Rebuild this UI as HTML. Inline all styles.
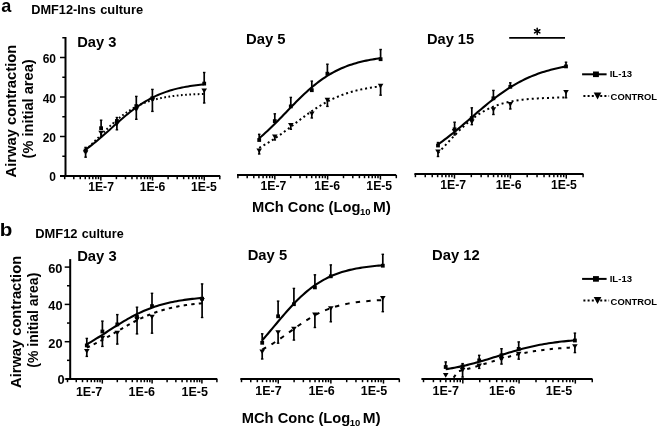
<!DOCTYPE html>
<html><head><meta charset="utf-8"><style>
html,body{margin:0;padding:0;background:#fff;}
svg{display:block;filter:blur(0.3px);}
text{font-family:"Liberation Sans", sans-serif;font-weight:bold;fill:#000;}
</style></head><body>
<svg width="660" height="427" viewBox="0 0 660 427">
<rect width="660" height="427" fill="#fff"/>
<text x="1.26" y="11.50" font-size="18.50" textLength="10.07" lengthAdjust="spacingAndGlyphs">a</text>
<text x="31.21" y="13.80" font-size="12.50" textLength="64.55" lengthAdjust="spacingAndGlyphs">DMF12-Ins</text>
<text x="100.18" y="13.80" font-size="12.50" textLength="42.95" lengthAdjust="spacingAndGlyphs">culture</text>
<text x="-0.34" y="235.60" font-size="18.60" textLength="12.58" lengthAdjust="spacingAndGlyphs">b</text>
<text x="35.20" y="237.70" font-size="12.50" textLength="42.30" lengthAdjust="spacingAndGlyphs">DMF12</text>
<text x="81.80" y="237.70" font-size="12.50" textLength="41.83" lengthAdjust="spacingAndGlyphs">culture</text>
<text x="77.17" y="47.20" font-size="14.50" textLength="39.19" lengthAdjust="spacingAndGlyphs">Day 3</text>
<text x="245.96" y="44.40" font-size="14.50" textLength="39.56" lengthAdjust="spacingAndGlyphs">Day 5</text>
<text x="426.98" y="44.20" font-size="14.50" textLength="47.18" lengthAdjust="spacingAndGlyphs">Day 15</text>
<text x="77.16" y="260.60" font-size="14.50" textLength="39.50" lengthAdjust="spacingAndGlyphs">Day 3</text>
<text x="247.66" y="260.40" font-size="14.50" textLength="39.45" lengthAdjust="spacingAndGlyphs">Day 5</text>
<text x="432.07" y="260.40" font-size="14.50" textLength="47.64" lengthAdjust="spacingAndGlyphs">Day 12</text>
<text x="251.97" y="212.30" font-size="14.00" textLength="108.41" lengthAdjust="spacingAndGlyphs">MCh Conc (Log</text>
<text x="360.03" y="215.30" font-size="9.00" textLength="10.58" lengthAdjust="spacingAndGlyphs">10</text>
<text x="372.92" y="212.30" font-size="14.00" textLength="17.94" lengthAdjust="spacingAndGlyphs">M)</text>
<text x="241.77" y="423.00" font-size="14.00" textLength="108.41" lengthAdjust="spacingAndGlyphs">MCh Conc (Log</text>
<text x="349.83" y="426.00" font-size="9.00" textLength="10.58" lengthAdjust="spacingAndGlyphs">10</text>
<text x="362.72" y="423.00" font-size="14.00" textLength="17.94" lengthAdjust="spacingAndGlyphs">M)</text>
<text transform="rotate(-90)" x="-177.54" y="15.80" font-size="14.40" textLength="132.85" lengthAdjust="spacingAndGlyphs">Airway contraction</text>
<text transform="rotate(-90)" x="-158.43" y="33.40" font-size="14.40" textLength="99.05" lengthAdjust="spacingAndGlyphs">(% initial area)</text>
<text transform="rotate(-90)" x="-387.94" y="20.60" font-size="14.40" textLength="132.04" lengthAdjust="spacingAndGlyphs">Airway contraction</text>
<text transform="rotate(-90)" x="-367.70" y="38.20" font-size="14.00" textLength="94.99" lengthAdjust="spacingAndGlyphs">(% initial area)</text>
<line x1="65.5" y1="37.0" x2="65.5" y2="177.0" stroke="#000" stroke-width="2"/>
<line x1="60.0" y1="176.00" x2="65.5" y2="176.00" stroke="#000" stroke-width="1.5"/>
<line x1="60.0" y1="136.50" x2="65.5" y2="136.50" stroke="#000" stroke-width="1.5"/>
<line x1="60.0" y1="97.00" x2="65.5" y2="97.00" stroke="#000" stroke-width="1.5"/>
<line x1="60.0" y1="57.50" x2="65.5" y2="57.50" stroke="#000" stroke-width="1.5"/>
<line x1="62.3" y1="156.25" x2="65.5" y2="156.25" stroke="#000" stroke-width="1.5"/>
<line x1="62.3" y1="116.75" x2="65.5" y2="116.75" stroke="#000" stroke-width="1.5"/>
<line x1="62.3" y1="77.25" x2="65.5" y2="77.25" stroke="#000" stroke-width="1.5"/>
<line x1="62.3" y1="37.75" x2="65.5" y2="37.75" stroke="#000" stroke-width="1.5"/>
<line x1="60.0" y1="176.0" x2="220.2" y2="176.0" stroke="#000" stroke-width="2"/>
<line x1="64.70" y1="176.0" x2="64.70" y2="179.20" stroke="#000" stroke-width="1.5"/>
<line x1="73.80" y1="176.0" x2="73.80" y2="179.20" stroke="#000" stroke-width="1.5"/>
<line x1="80.26" y1="176.0" x2="80.26" y2="179.20" stroke="#000" stroke-width="1.5"/>
<line x1="85.27" y1="176.0" x2="85.27" y2="179.20" stroke="#000" stroke-width="1.5"/>
<line x1="89.37" y1="176.0" x2="89.37" y2="179.20" stroke="#000" stroke-width="1.5"/>
<line x1="92.83" y1="176.0" x2="92.83" y2="179.20" stroke="#000" stroke-width="1.5"/>
<line x1="95.83" y1="176.0" x2="95.83" y2="179.20" stroke="#000" stroke-width="1.5"/>
<line x1="98.47" y1="176.0" x2="98.47" y2="179.20" stroke="#000" stroke-width="1.5"/>
<line x1="100.84" y1="176.0" x2="100.84" y2="180.60" stroke="#000" stroke-width="1.5"/>
<line x1="116.40" y1="176.0" x2="116.40" y2="179.20" stroke="#000" stroke-width="1.5"/>
<line x1="125.50" y1="176.0" x2="125.50" y2="179.20" stroke="#000" stroke-width="1.5"/>
<line x1="131.96" y1="176.0" x2="131.96" y2="179.20" stroke="#000" stroke-width="1.5"/>
<line x1="136.97" y1="176.0" x2="136.97" y2="179.20" stroke="#000" stroke-width="1.5"/>
<line x1="141.07" y1="176.0" x2="141.07" y2="179.20" stroke="#000" stroke-width="1.5"/>
<line x1="144.53" y1="176.0" x2="144.53" y2="179.20" stroke="#000" stroke-width="1.5"/>
<line x1="147.53" y1="176.0" x2="147.53" y2="179.20" stroke="#000" stroke-width="1.5"/>
<line x1="150.17" y1="176.0" x2="150.17" y2="179.20" stroke="#000" stroke-width="1.5"/>
<line x1="152.54" y1="176.0" x2="152.54" y2="180.60" stroke="#000" stroke-width="1.5"/>
<line x1="168.10" y1="176.0" x2="168.10" y2="179.20" stroke="#000" stroke-width="1.5"/>
<line x1="177.20" y1="176.0" x2="177.20" y2="179.20" stroke="#000" stroke-width="1.5"/>
<line x1="183.66" y1="176.0" x2="183.66" y2="179.20" stroke="#000" stroke-width="1.5"/>
<line x1="188.67" y1="176.0" x2="188.67" y2="179.20" stroke="#000" stroke-width="1.5"/>
<line x1="192.77" y1="176.0" x2="192.77" y2="179.20" stroke="#000" stroke-width="1.5"/>
<line x1="196.23" y1="176.0" x2="196.23" y2="179.20" stroke="#000" stroke-width="1.5"/>
<line x1="199.23" y1="176.0" x2="199.23" y2="179.20" stroke="#000" stroke-width="1.5"/>
<line x1="201.87" y1="176.0" x2="201.87" y2="179.20" stroke="#000" stroke-width="1.5"/>
<line x1="204.24" y1="176.0" x2="204.24" y2="180.60" stroke="#000" stroke-width="1.5"/>
<line x1="219.80" y1="176.0" x2="219.80" y2="179.20" stroke="#000" stroke-width="1.5"/>
<text x="49.36" y="180.64" font-size="12.00" textLength="6.67" lengthAdjust="spacingAndGlyphs">0</text>
<text x="42.64" y="141.84" font-size="12.00" textLength="13.35" lengthAdjust="spacingAndGlyphs">20</text>
<text x="42.64" y="102.94" font-size="12.00" textLength="13.35" lengthAdjust="spacingAndGlyphs">40</text>
<text x="42.64" y="63.04" font-size="12.00" textLength="13.35" lengthAdjust="spacingAndGlyphs">60</text>
<text x="88.21" y="190.70" font-size="12.20" textLength="25.77" lengthAdjust="spacingAndGlyphs">1E-7</text>
<text x="139.65" y="190.70" font-size="12.20" textLength="25.77" lengthAdjust="spacingAndGlyphs">1E-6</text>
<text x="191.08" y="190.70" font-size="12.20" textLength="25.77" lengthAdjust="spacingAndGlyphs">1E-5</text>
<line x1="237.0" y1="175.0" x2="396.2" y2="175.0" stroke="#000" stroke-width="2"/>
<line x1="237.90" y1="175.0" x2="237.90" y2="178.20" stroke="#000" stroke-width="1.5"/>
<line x1="247.20" y1="175.0" x2="247.20" y2="178.20" stroke="#000" stroke-width="1.5"/>
<line x1="253.79" y1="175.0" x2="253.79" y2="178.20" stroke="#000" stroke-width="1.5"/>
<line x1="258.91" y1="175.0" x2="258.91" y2="178.20" stroke="#000" stroke-width="1.5"/>
<line x1="263.09" y1="175.0" x2="263.09" y2="178.20" stroke="#000" stroke-width="1.5"/>
<line x1="266.63" y1="175.0" x2="266.63" y2="178.20" stroke="#000" stroke-width="1.5"/>
<line x1="269.69" y1="175.0" x2="269.69" y2="178.20" stroke="#000" stroke-width="1.5"/>
<line x1="272.39" y1="175.0" x2="272.39" y2="178.20" stroke="#000" stroke-width="1.5"/>
<line x1="274.81" y1="175.0" x2="274.81" y2="179.60" stroke="#000" stroke-width="1.5"/>
<line x1="290.70" y1="175.0" x2="290.70" y2="178.20" stroke="#000" stroke-width="1.5"/>
<line x1="300.00" y1="175.0" x2="300.00" y2="178.20" stroke="#000" stroke-width="1.5"/>
<line x1="306.59" y1="175.0" x2="306.59" y2="178.20" stroke="#000" stroke-width="1.5"/>
<line x1="311.71" y1="175.0" x2="311.71" y2="178.20" stroke="#000" stroke-width="1.5"/>
<line x1="315.89" y1="175.0" x2="315.89" y2="178.20" stroke="#000" stroke-width="1.5"/>
<line x1="319.43" y1="175.0" x2="319.43" y2="178.20" stroke="#000" stroke-width="1.5"/>
<line x1="322.49" y1="175.0" x2="322.49" y2="178.20" stroke="#000" stroke-width="1.5"/>
<line x1="325.19" y1="175.0" x2="325.19" y2="178.20" stroke="#000" stroke-width="1.5"/>
<line x1="327.61" y1="175.0" x2="327.61" y2="179.60" stroke="#000" stroke-width="1.5"/>
<line x1="343.50" y1="175.0" x2="343.50" y2="178.20" stroke="#000" stroke-width="1.5"/>
<line x1="352.80" y1="175.0" x2="352.80" y2="178.20" stroke="#000" stroke-width="1.5"/>
<line x1="359.39" y1="175.0" x2="359.39" y2="178.20" stroke="#000" stroke-width="1.5"/>
<line x1="364.51" y1="175.0" x2="364.51" y2="178.20" stroke="#000" stroke-width="1.5"/>
<line x1="368.69" y1="175.0" x2="368.69" y2="178.20" stroke="#000" stroke-width="1.5"/>
<line x1="372.23" y1="175.0" x2="372.23" y2="178.20" stroke="#000" stroke-width="1.5"/>
<line x1="375.29" y1="175.0" x2="375.29" y2="178.20" stroke="#000" stroke-width="1.5"/>
<line x1="377.99" y1="175.0" x2="377.99" y2="178.20" stroke="#000" stroke-width="1.5"/>
<line x1="380.41" y1="175.0" x2="380.41" y2="179.60" stroke="#000" stroke-width="1.5"/>
<line x1="396.30" y1="175.0" x2="396.30" y2="178.20" stroke="#000" stroke-width="1.5"/>
<text x="260.51" y="189.90" font-size="12.20" textLength="25.77" lengthAdjust="spacingAndGlyphs">1E-7</text>
<text x="314.25" y="189.90" font-size="12.20" textLength="25.77" lengthAdjust="spacingAndGlyphs">1E-6</text>
<text x="366.39" y="189.90" font-size="12.20" textLength="25.77" lengthAdjust="spacingAndGlyphs">1E-5</text>
<line x1="414.4" y1="174.0" x2="583.4" y2="174.0" stroke="#000" stroke-width="2"/>
<line x1="415.40" y1="174.0" x2="415.40" y2="177.20" stroke="#000" stroke-width="1.5"/>
<line x1="425.24" y1="174.0" x2="425.24" y2="177.20" stroke="#000" stroke-width="1.5"/>
<line x1="432.23" y1="174.0" x2="432.23" y2="177.20" stroke="#000" stroke-width="1.5"/>
<line x1="437.64" y1="174.0" x2="437.64" y2="177.20" stroke="#000" stroke-width="1.5"/>
<line x1="442.07" y1="174.0" x2="442.07" y2="177.20" stroke="#000" stroke-width="1.5"/>
<line x1="445.81" y1="174.0" x2="445.81" y2="177.20" stroke="#000" stroke-width="1.5"/>
<line x1="449.06" y1="174.0" x2="449.06" y2="177.20" stroke="#000" stroke-width="1.5"/>
<line x1="451.91" y1="174.0" x2="451.91" y2="177.20" stroke="#000" stroke-width="1.5"/>
<line x1="454.47" y1="174.0" x2="454.47" y2="178.60" stroke="#000" stroke-width="1.5"/>
<line x1="471.30" y1="174.0" x2="471.30" y2="177.20" stroke="#000" stroke-width="1.5"/>
<line x1="481.14" y1="174.0" x2="481.14" y2="177.20" stroke="#000" stroke-width="1.5"/>
<line x1="488.13" y1="174.0" x2="488.13" y2="177.20" stroke="#000" stroke-width="1.5"/>
<line x1="493.54" y1="174.0" x2="493.54" y2="177.20" stroke="#000" stroke-width="1.5"/>
<line x1="497.97" y1="174.0" x2="497.97" y2="177.20" stroke="#000" stroke-width="1.5"/>
<line x1="501.71" y1="174.0" x2="501.71" y2="177.20" stroke="#000" stroke-width="1.5"/>
<line x1="504.96" y1="174.0" x2="504.96" y2="177.20" stroke="#000" stroke-width="1.5"/>
<line x1="507.81" y1="174.0" x2="507.81" y2="177.20" stroke="#000" stroke-width="1.5"/>
<line x1="510.37" y1="174.0" x2="510.37" y2="178.60" stroke="#000" stroke-width="1.5"/>
<line x1="527.20" y1="174.0" x2="527.20" y2="177.20" stroke="#000" stroke-width="1.5"/>
<line x1="537.04" y1="174.0" x2="537.04" y2="177.20" stroke="#000" stroke-width="1.5"/>
<line x1="544.03" y1="174.0" x2="544.03" y2="177.20" stroke="#000" stroke-width="1.5"/>
<line x1="549.44" y1="174.0" x2="549.44" y2="177.20" stroke="#000" stroke-width="1.5"/>
<line x1="553.87" y1="174.0" x2="553.87" y2="177.20" stroke="#000" stroke-width="1.5"/>
<line x1="557.61" y1="174.0" x2="557.61" y2="177.20" stroke="#000" stroke-width="1.5"/>
<line x1="560.86" y1="174.0" x2="560.86" y2="177.20" stroke="#000" stroke-width="1.5"/>
<line x1="563.71" y1="174.0" x2="563.71" y2="177.20" stroke="#000" stroke-width="1.5"/>
<line x1="566.27" y1="174.0" x2="566.27" y2="178.60" stroke="#000" stroke-width="1.5"/>
<line x1="583.10" y1="174.0" x2="583.10" y2="177.20" stroke="#000" stroke-width="1.5"/>
<text x="440.31" y="189.30" font-size="12.20" textLength="25.77" lengthAdjust="spacingAndGlyphs">1E-7</text>
<text x="495.75" y="189.30" font-size="12.20" textLength="25.77" lengthAdjust="spacingAndGlyphs">1E-6</text>
<text x="550.99" y="189.30" font-size="12.20" textLength="25.77" lengthAdjust="spacingAndGlyphs">1E-5</text>
<line x1="70.2" y1="259.1" x2="70.2" y2="380.0" stroke="#000" stroke-width="2"/>
<line x1="64.7" y1="379.00" x2="70.2" y2="379.00" stroke="#000" stroke-width="1.5"/>
<line x1="64.7" y1="341.70" x2="70.2" y2="341.70" stroke="#000" stroke-width="1.5"/>
<line x1="64.7" y1="304.40" x2="70.2" y2="304.40" stroke="#000" stroke-width="1.5"/>
<line x1="64.7" y1="267.10" x2="70.2" y2="267.10" stroke="#000" stroke-width="1.5"/>
<line x1="67.0" y1="360.35" x2="70.2" y2="360.35" stroke="#000" stroke-width="1.5"/>
<line x1="67.0" y1="323.05" x2="70.2" y2="323.05" stroke="#000" stroke-width="1.5"/>
<line x1="67.0" y1="285.75" x2="70.2" y2="285.75" stroke="#000" stroke-width="1.5"/>
<line x1="66.0" y1="379.0" x2="217.3" y2="379.0" stroke="#000" stroke-width="2"/>
<line x1="67.50" y1="379.0" x2="67.50" y2="382.20" stroke="#000" stroke-width="1.5"/>
<line x1="76.27" y1="379.0" x2="76.27" y2="382.20" stroke="#000" stroke-width="1.5"/>
<line x1="82.49" y1="379.0" x2="82.49" y2="382.20" stroke="#000" stroke-width="1.5"/>
<line x1="87.32" y1="379.0" x2="87.32" y2="382.20" stroke="#000" stroke-width="1.5"/>
<line x1="91.26" y1="379.0" x2="91.26" y2="382.20" stroke="#000" stroke-width="1.5"/>
<line x1="94.59" y1="379.0" x2="94.59" y2="382.20" stroke="#000" stroke-width="1.5"/>
<line x1="97.48" y1="379.0" x2="97.48" y2="382.20" stroke="#000" stroke-width="1.5"/>
<line x1="100.03" y1="379.0" x2="100.03" y2="382.20" stroke="#000" stroke-width="1.5"/>
<line x1="102.31" y1="379.0" x2="102.31" y2="383.60" stroke="#000" stroke-width="1.5"/>
<line x1="117.30" y1="379.0" x2="117.30" y2="382.20" stroke="#000" stroke-width="1.5"/>
<line x1="126.07" y1="379.0" x2="126.07" y2="382.20" stroke="#000" stroke-width="1.5"/>
<line x1="132.29" y1="379.0" x2="132.29" y2="382.20" stroke="#000" stroke-width="1.5"/>
<line x1="137.12" y1="379.0" x2="137.12" y2="382.20" stroke="#000" stroke-width="1.5"/>
<line x1="141.06" y1="379.0" x2="141.06" y2="382.20" stroke="#000" stroke-width="1.5"/>
<line x1="144.39" y1="379.0" x2="144.39" y2="382.20" stroke="#000" stroke-width="1.5"/>
<line x1="147.28" y1="379.0" x2="147.28" y2="382.20" stroke="#000" stroke-width="1.5"/>
<line x1="149.83" y1="379.0" x2="149.83" y2="382.20" stroke="#000" stroke-width="1.5"/>
<line x1="152.11" y1="379.0" x2="152.11" y2="383.60" stroke="#000" stroke-width="1.5"/>
<line x1="167.10" y1="379.0" x2="167.10" y2="382.20" stroke="#000" stroke-width="1.5"/>
<line x1="175.87" y1="379.0" x2="175.87" y2="382.20" stroke="#000" stroke-width="1.5"/>
<line x1="182.09" y1="379.0" x2="182.09" y2="382.20" stroke="#000" stroke-width="1.5"/>
<line x1="186.92" y1="379.0" x2="186.92" y2="382.20" stroke="#000" stroke-width="1.5"/>
<line x1="190.86" y1="379.0" x2="190.86" y2="382.20" stroke="#000" stroke-width="1.5"/>
<line x1="194.19" y1="379.0" x2="194.19" y2="382.20" stroke="#000" stroke-width="1.5"/>
<line x1="197.08" y1="379.0" x2="197.08" y2="382.20" stroke="#000" stroke-width="1.5"/>
<line x1="199.63" y1="379.0" x2="199.63" y2="382.20" stroke="#000" stroke-width="1.5"/>
<line x1="201.91" y1="379.0" x2="201.91" y2="383.60" stroke="#000" stroke-width="1.5"/>
<line x1="216.90" y1="379.0" x2="216.90" y2="382.20" stroke="#000" stroke-width="1.5"/>
<text x="57.44" y="384.42" font-size="12.80" textLength="7.12" lengthAdjust="spacingAndGlyphs">0</text>
<text x="48.28" y="348.42" font-size="12.80" textLength="14.24" lengthAdjust="spacingAndGlyphs">20</text>
<text x="48.28" y="309.82" font-size="12.80" textLength="14.24" lengthAdjust="spacingAndGlyphs">40</text>
<text x="48.18" y="273.32" font-size="12.80" textLength="14.24" lengthAdjust="spacingAndGlyphs">60</text>
<text x="75.89" y="395.60" font-size="12.50" textLength="26.40" lengthAdjust="spacingAndGlyphs">1E-7</text>
<text x="128.62" y="395.60" font-size="12.50" textLength="26.40" lengthAdjust="spacingAndGlyphs">1E-6</text>
<text x="181.46" y="395.60" font-size="12.50" textLength="26.40" lengthAdjust="spacingAndGlyphs">1E-5</text>
<line x1="240.3" y1="379.0" x2="399.6" y2="379.0" stroke="#000" stroke-width="2"/>
<line x1="241.50" y1="379.0" x2="241.50" y2="382.20" stroke="#000" stroke-width="1.5"/>
<line x1="250.76" y1="379.0" x2="250.76" y2="382.20" stroke="#000" stroke-width="1.5"/>
<line x1="257.33" y1="379.0" x2="257.33" y2="382.20" stroke="#000" stroke-width="1.5"/>
<line x1="262.43" y1="379.0" x2="262.43" y2="382.20" stroke="#000" stroke-width="1.5"/>
<line x1="266.60" y1="379.0" x2="266.60" y2="382.20" stroke="#000" stroke-width="1.5"/>
<line x1="270.12" y1="379.0" x2="270.12" y2="382.20" stroke="#000" stroke-width="1.5"/>
<line x1="273.17" y1="379.0" x2="273.17" y2="382.20" stroke="#000" stroke-width="1.5"/>
<line x1="275.86" y1="379.0" x2="275.86" y2="382.20" stroke="#000" stroke-width="1.5"/>
<line x1="278.27" y1="379.0" x2="278.27" y2="383.60" stroke="#000" stroke-width="1.5"/>
<line x1="294.10" y1="379.0" x2="294.10" y2="382.20" stroke="#000" stroke-width="1.5"/>
<line x1="303.36" y1="379.0" x2="303.36" y2="382.20" stroke="#000" stroke-width="1.5"/>
<line x1="309.93" y1="379.0" x2="309.93" y2="382.20" stroke="#000" stroke-width="1.5"/>
<line x1="315.03" y1="379.0" x2="315.03" y2="382.20" stroke="#000" stroke-width="1.5"/>
<line x1="319.20" y1="379.0" x2="319.20" y2="382.20" stroke="#000" stroke-width="1.5"/>
<line x1="322.72" y1="379.0" x2="322.72" y2="382.20" stroke="#000" stroke-width="1.5"/>
<line x1="325.77" y1="379.0" x2="325.77" y2="382.20" stroke="#000" stroke-width="1.5"/>
<line x1="328.46" y1="379.0" x2="328.46" y2="382.20" stroke="#000" stroke-width="1.5"/>
<line x1="330.87" y1="379.0" x2="330.87" y2="383.60" stroke="#000" stroke-width="1.5"/>
<line x1="346.70" y1="379.0" x2="346.70" y2="382.20" stroke="#000" stroke-width="1.5"/>
<line x1="355.96" y1="379.0" x2="355.96" y2="382.20" stroke="#000" stroke-width="1.5"/>
<line x1="362.53" y1="379.0" x2="362.53" y2="382.20" stroke="#000" stroke-width="1.5"/>
<line x1="367.63" y1="379.0" x2="367.63" y2="382.20" stroke="#000" stroke-width="1.5"/>
<line x1="371.80" y1="379.0" x2="371.80" y2="382.20" stroke="#000" stroke-width="1.5"/>
<line x1="375.32" y1="379.0" x2="375.32" y2="382.20" stroke="#000" stroke-width="1.5"/>
<line x1="378.37" y1="379.0" x2="378.37" y2="382.20" stroke="#000" stroke-width="1.5"/>
<line x1="381.06" y1="379.0" x2="381.06" y2="382.20" stroke="#000" stroke-width="1.5"/>
<line x1="383.47" y1="379.0" x2="383.47" y2="383.60" stroke="#000" stroke-width="1.5"/>
<line x1="399.30" y1="379.0" x2="399.30" y2="382.20" stroke="#000" stroke-width="1.5"/>
<text x="255.19" y="394.90" font-size="12.50" textLength="26.40" lengthAdjust="spacingAndGlyphs">1E-7</text>
<text x="308.43" y="394.90" font-size="12.50" textLength="26.40" lengthAdjust="spacingAndGlyphs">1E-6</text>
<text x="360.76" y="394.90" font-size="12.50" textLength="26.40" lengthAdjust="spacingAndGlyphs">1E-5</text>
<line x1="421.4" y1="379.0" x2="592.5" y2="379.0" stroke="#000" stroke-width="2"/>
<line x1="423.50" y1="379.0" x2="423.50" y2="382.20" stroke="#000" stroke-width="1.5"/>
<line x1="433.41" y1="379.0" x2="433.41" y2="382.20" stroke="#000" stroke-width="1.5"/>
<line x1="440.43" y1="379.0" x2="440.43" y2="382.20" stroke="#000" stroke-width="1.5"/>
<line x1="445.88" y1="379.0" x2="445.88" y2="382.20" stroke="#000" stroke-width="1.5"/>
<line x1="450.34" y1="379.0" x2="450.34" y2="382.20" stroke="#000" stroke-width="1.5"/>
<line x1="454.10" y1="379.0" x2="454.10" y2="382.20" stroke="#000" stroke-width="1.5"/>
<line x1="457.37" y1="379.0" x2="457.37" y2="382.20" stroke="#000" stroke-width="1.5"/>
<line x1="460.24" y1="379.0" x2="460.24" y2="382.20" stroke="#000" stroke-width="1.5"/>
<line x1="462.82" y1="379.0" x2="462.82" y2="383.60" stroke="#000" stroke-width="1.5"/>
<line x1="479.75" y1="379.0" x2="479.75" y2="382.20" stroke="#000" stroke-width="1.5"/>
<line x1="489.66" y1="379.0" x2="489.66" y2="382.20" stroke="#000" stroke-width="1.5"/>
<line x1="496.68" y1="379.0" x2="496.68" y2="382.20" stroke="#000" stroke-width="1.5"/>
<line x1="502.13" y1="379.0" x2="502.13" y2="382.20" stroke="#000" stroke-width="1.5"/>
<line x1="506.59" y1="379.0" x2="506.59" y2="382.20" stroke="#000" stroke-width="1.5"/>
<line x1="510.35" y1="379.0" x2="510.35" y2="382.20" stroke="#000" stroke-width="1.5"/>
<line x1="513.62" y1="379.0" x2="513.62" y2="382.20" stroke="#000" stroke-width="1.5"/>
<line x1="516.49" y1="379.0" x2="516.49" y2="382.20" stroke="#000" stroke-width="1.5"/>
<line x1="519.07" y1="379.0" x2="519.07" y2="383.60" stroke="#000" stroke-width="1.5"/>
<line x1="536.00" y1="379.0" x2="536.00" y2="382.20" stroke="#000" stroke-width="1.5"/>
<line x1="545.91" y1="379.0" x2="545.91" y2="382.20" stroke="#000" stroke-width="1.5"/>
<line x1="552.93" y1="379.0" x2="552.93" y2="382.20" stroke="#000" stroke-width="1.5"/>
<line x1="558.38" y1="379.0" x2="558.38" y2="382.20" stroke="#000" stroke-width="1.5"/>
<line x1="562.84" y1="379.0" x2="562.84" y2="382.20" stroke="#000" stroke-width="1.5"/>
<line x1="566.60" y1="379.0" x2="566.60" y2="382.20" stroke="#000" stroke-width="1.5"/>
<line x1="569.87" y1="379.0" x2="569.87" y2="382.20" stroke="#000" stroke-width="1.5"/>
<line x1="572.74" y1="379.0" x2="572.74" y2="382.20" stroke="#000" stroke-width="1.5"/>
<line x1="575.32" y1="379.0" x2="575.32" y2="383.60" stroke="#000" stroke-width="1.5"/>
<line x1="592.25" y1="379.0" x2="592.25" y2="382.20" stroke="#000" stroke-width="1.5"/>
<text x="432.59" y="394.90" font-size="12.50" textLength="26.40" lengthAdjust="spacingAndGlyphs">1E-7</text>
<text x="489.12" y="394.90" font-size="12.50" textLength="26.40" lengthAdjust="spacingAndGlyphs">1E-6</text>
<text x="545.76" y="394.90" font-size="12.50" textLength="26.40" lengthAdjust="spacingAndGlyphs">1E-5</text>
<path d="M85.60,149.62 L87.61,148.17 L89.62,146.67 L91.63,145.12 L93.64,143.53 L95.65,141.90 L97.66,140.23 L99.67,138.53 L101.68,136.80 L103.69,135.04 L105.70,133.27 L107.71,131.48 L109.72,129.68 L111.73,127.88 L113.74,126.07 L115.75,124.28 L117.76,122.50 L119.77,120.73 L121.78,118.99 L123.79,117.27 L125.80,115.59 L127.81,113.94 L129.82,112.33 L131.83,110.76 L133.84,109.24 L135.85,107.76 L137.86,106.34 L139.87,104.96 L141.88,103.64 L143.89,102.38 L145.91,101.16 L147.92,100.00 L149.93,98.90 L151.94,97.84 L153.95,96.84 L155.96,95.89 L157.97,94.99 L159.98,94.14 L161.99,93.34 L164.00,92.58 L166.01,91.86 L168.02,91.19 L170.03,90.56 L172.04,89.97 L174.05,89.41 L176.06,88.89 L178.07,88.40 L180.08,87.94 L182.09,87.52 L184.10,87.12 L186.11,86.75 L188.12,86.40 L190.13,86.07 L192.14,85.77 L194.15,85.49 L196.16,85.23 L198.17,84.99 L200.18,84.76 L202.19,84.55 L204.20,84.35" fill="none" stroke="#000" stroke-width="2.0"/>
<path d="M85.60,150.03 L87.61,148.16 L89.62,146.24 L91.63,144.29 L93.64,142.30 L95.65,140.30 L97.66,138.28 L99.67,136.26 L101.68,134.24 L103.69,132.24 L105.70,130.25 L107.71,128.30 L109.72,126.38 L111.73,124.50 L113.74,122.67 L115.75,120.90 L117.76,119.18 L119.77,117.53 L121.78,115.95 L123.79,114.43 L125.80,112.98 L127.81,111.61 L129.82,110.31 L131.83,109.08 L133.84,107.92 L135.85,106.82 L137.86,105.80 L139.87,104.84 L141.88,103.94 L143.89,103.10 L145.91,102.33 L147.92,101.60 L149.93,100.93 L151.94,100.30 L153.95,99.73 L155.96,99.19 L157.97,98.70 L159.98,98.25 L161.99,97.83 L164.00,97.44 L166.01,97.09 L168.02,96.76 L170.03,96.46 L172.04,96.18 L174.05,95.93 L176.06,95.70 L178.07,95.49 L180.08,95.29 L182.09,95.11 L184.10,94.95 L186.11,94.80 L188.12,94.66 L190.13,94.54 L192.14,94.42 L194.15,94.32 L196.16,94.22 L198.17,94.13 L200.18,94.05 L202.19,93.98 L204.20,93.91" fill="none" stroke="#000" stroke-width="2" stroke-dasharray="1.7,2.5"/>
<line x1="85.60" y1="150.50" x2="85.60" y2="147.40" stroke="#000" stroke-width="1.7"/>
<line x1="84.35" y1="147.40" x2="86.85" y2="147.40" stroke="#000" stroke-width="1.4"/>
<line x1="85.60" y1="152.50" x2="85.60" y2="157.20" stroke="#000" stroke-width="1.7"/>
<line x1="84.35" y1="157.20" x2="86.85" y2="157.20" stroke="#000" stroke-width="1.4"/>
<rect x="83.70" y="148.60" width="3.8" height="3.8" fill="#000"/>
<path d="M82.80,150.20 L88.40,150.20 L85.60,154.80 Z" fill="#000"/>
<line x1="101.10" y1="128.20" x2="101.10" y2="120.20" stroke="#000" stroke-width="1.7"/>
<line x1="99.85" y1="120.20" x2="102.35" y2="120.20" stroke="#000" stroke-width="1.4"/>
<line x1="101.10" y1="133.00" x2="101.10" y2="136.50" stroke="#000" stroke-width="1.7"/>
<line x1="99.85" y1="136.50" x2="102.35" y2="136.50" stroke="#000" stroke-width="1.4"/>
<rect x="99.20" y="126.30" width="3.8" height="3.8" fill="#000"/>
<path d="M98.30,130.70 L103.90,130.70 L101.10,135.30 Z" fill="#000"/>
<line x1="116.90" y1="121.00" x2="116.90" y2="117.50" stroke="#000" stroke-width="1.7"/>
<line x1="115.65" y1="117.50" x2="118.15" y2="117.50" stroke="#000" stroke-width="1.4"/>
<line x1="116.90" y1="124.00" x2="116.90" y2="129.80" stroke="#000" stroke-width="1.7"/>
<line x1="115.65" y1="129.80" x2="118.15" y2="129.80" stroke="#000" stroke-width="1.4"/>
<rect x="115.00" y="119.10" width="3.8" height="3.8" fill="#000"/>
<path d="M114.10,121.70 L119.70,121.70 L116.90,126.30 Z" fill="#000"/>
<line x1="136.30" y1="106.10" x2="136.30" y2="96.40" stroke="#000" stroke-width="1.7"/>
<line x1="135.05" y1="96.40" x2="137.55" y2="96.40" stroke="#000" stroke-width="1.4"/>
<line x1="136.30" y1="109.60" x2="136.30" y2="119.30" stroke="#000" stroke-width="1.7"/>
<line x1="135.05" y1="119.30" x2="137.55" y2="119.30" stroke="#000" stroke-width="1.4"/>
<rect x="134.40" y="104.20" width="3.8" height="3.8" fill="#000"/>
<path d="M133.50,107.30 L139.10,107.30 L136.30,111.90 Z" fill="#000"/>
<line x1="152.40" y1="98.20" x2="152.40" y2="89.40" stroke="#000" stroke-width="1.7"/>
<line x1="151.15" y1="89.40" x2="153.65" y2="89.40" stroke="#000" stroke-width="1.4"/>
<line x1="152.40" y1="100.00" x2="152.40" y2="111.40" stroke="#000" stroke-width="1.7"/>
<line x1="151.15" y1="111.40" x2="153.65" y2="111.40" stroke="#000" stroke-width="1.4"/>
<rect x="150.50" y="96.30" width="3.8" height="3.8" fill="#000"/>
<path d="M149.60,97.70 L155.20,97.70 L152.40,102.30 Z" fill="#000"/>
<line x1="204.20" y1="83.60" x2="204.20" y2="72.50" stroke="#000" stroke-width="1.7"/>
<line x1="202.95" y1="72.50" x2="205.45" y2="72.50" stroke="#000" stroke-width="1.4"/>
<line x1="204.20" y1="90.80" x2="204.20" y2="103.00" stroke="#000" stroke-width="1.7"/>
<line x1="202.95" y1="103.00" x2="205.45" y2="103.00" stroke="#000" stroke-width="1.4"/>
<rect x="202.30" y="81.70" width="3.8" height="3.8" fill="#000"/>
<path d="M201.40,88.50 L207.00,88.50 L204.20,93.10 Z" fill="#000"/>
<path d="M259.20,138.20 L261.26,136.47 L263.32,134.68 L265.37,132.84 L267.43,130.95 L269.49,129.01 L271.55,127.04 L273.60,125.02 L275.66,122.97 L277.72,120.89 L279.78,118.79 L281.83,116.67 L283.89,114.54 L285.95,112.40 L288.01,110.27 L290.06,108.13 L292.12,106.01 L294.18,103.91 L296.24,101.82 L298.29,99.77 L300.35,97.75 L302.41,95.76 L304.47,93.82 L306.53,91.92 L308.58,90.07 L310.64,88.27 L312.70,86.53 L314.76,84.84 L316.81,83.22 L318.87,81.65 L320.93,80.14 L322.99,78.69 L325.04,77.31 L327.10,75.98 L329.16,74.71 L331.22,73.51 L333.27,72.36 L335.33,71.27 L337.39,70.24 L339.45,69.26 L341.51,68.33 L343.56,67.45 L345.62,66.63 L347.68,65.85 L349.74,65.11 L351.79,64.42 L353.85,63.77 L355.91,63.16 L357.97,62.58 L360.02,62.04 L362.08,61.54 L364.14,61.07 L366.20,60.62 L368.25,60.21 L370.31,59.82 L372.37,59.46 L374.43,59.12 L376.48,58.80 L378.54,58.51 L380.60,58.23" fill="none" stroke="#000" stroke-width="2.1"/>
<path d="M259.20,147.78 L261.26,146.70 L263.32,145.58 L265.37,144.40 L267.43,143.19 L269.49,141.92 L271.55,140.62 L273.60,139.27 L275.66,137.89 L277.72,136.47 L279.78,135.01 L281.83,133.53 L283.89,132.02 L285.95,130.48 L288.01,128.93 L290.06,127.37 L292.12,125.79 L294.18,124.21 L296.24,122.63 L298.29,121.06 L300.35,119.49 L302.41,117.94 L304.47,116.41 L306.53,114.90 L308.58,113.41 L310.64,111.96 L312.70,110.54 L314.76,109.15 L316.81,107.80 L318.87,106.50 L320.93,105.24 L322.99,104.02 L325.04,102.85 L327.10,101.72 L329.16,100.64 L331.22,99.61 L333.27,98.63 L335.33,97.69 L337.39,96.80 L339.45,95.95 L341.51,95.15 L343.56,94.39 L345.62,93.67 L347.68,92.99 L349.74,92.35 L351.79,91.75 L353.85,91.18 L355.91,90.65 L357.97,90.15 L360.02,89.68 L362.08,89.25 L364.14,88.84 L366.20,88.45 L368.25,88.09 L370.31,87.76 L372.37,87.45 L374.43,87.15 L376.48,86.88 L378.54,86.63 L380.60,86.39" fill="none" stroke="#000" stroke-width="2" stroke-dasharray="2,2.9"/>
<line x1="259.20" y1="140.00" x2="259.20" y2="134.30" stroke="#000" stroke-width="1.7"/>
<line x1="257.95" y1="134.30" x2="260.45" y2="134.30" stroke="#000" stroke-width="1.4"/>
<line x1="259.20" y1="150.70" x2="259.20" y2="154.00" stroke="#000" stroke-width="1.7"/>
<line x1="257.95" y1="154.00" x2="260.45" y2="154.00" stroke="#000" stroke-width="1.4"/>
<rect x="257.30" y="138.10" width="3.8" height="3.8" fill="#000"/>
<path d="M256.40,148.40 L262.00,148.40 L259.20,153.00 Z" fill="#000"/>
<line x1="274.80" y1="121.10" x2="274.80" y2="113.80" stroke="#000" stroke-width="1.7"/>
<line x1="273.55" y1="113.80" x2="276.05" y2="113.80" stroke="#000" stroke-width="1.4"/>
<line x1="274.80" y1="136.70" x2="274.80" y2="140.00" stroke="#000" stroke-width="1.7"/>
<line x1="273.55" y1="140.00" x2="276.05" y2="140.00" stroke="#000" stroke-width="1.4"/>
<rect x="272.90" y="119.20" width="3.8" height="3.8" fill="#000"/>
<path d="M272.00,134.40 L277.60,134.40 L274.80,139.00 Z" fill="#000"/>
<line x1="290.80" y1="106.40" x2="290.80" y2="97.40" stroke="#000" stroke-width="1.7"/>
<line x1="289.55" y1="97.40" x2="292.05" y2="97.40" stroke="#000" stroke-width="1.4"/>
<line x1="290.80" y1="125.20" x2="290.80" y2="129.30" stroke="#000" stroke-width="1.7"/>
<line x1="289.55" y1="129.30" x2="292.05" y2="129.30" stroke="#000" stroke-width="1.4"/>
<rect x="288.90" y="104.50" width="3.8" height="3.8" fill="#000"/>
<path d="M288.00,122.90 L293.60,122.90 L290.80,127.50 Z" fill="#000"/>
<line x1="311.80" y1="90.20" x2="311.80" y2="81.10" stroke="#000" stroke-width="1.7"/>
<line x1="310.55" y1="81.10" x2="313.05" y2="81.10" stroke="#000" stroke-width="1.4"/>
<line x1="311.80" y1="113.80" x2="311.80" y2="118.00" stroke="#000" stroke-width="1.7"/>
<line x1="310.55" y1="118.00" x2="313.05" y2="118.00" stroke="#000" stroke-width="1.4"/>
<rect x="309.90" y="88.30" width="3.8" height="3.8" fill="#000"/>
<path d="M309.00,111.50 L314.60,111.50 L311.80,116.10 Z" fill="#000"/>
<line x1="327.40" y1="73.70" x2="327.40" y2="64.20" stroke="#000" stroke-width="1.7"/>
<line x1="326.15" y1="64.20" x2="328.65" y2="64.20" stroke="#000" stroke-width="1.4"/>
<line x1="327.40" y1="100.10" x2="327.40" y2="106.40" stroke="#000" stroke-width="1.7"/>
<line x1="326.15" y1="106.40" x2="328.65" y2="106.40" stroke="#000" stroke-width="1.4"/>
<rect x="325.50" y="71.80" width="3.8" height="3.8" fill="#000"/>
<path d="M324.60,97.80 L330.20,97.80 L327.40,102.40 Z" fill="#000"/>
<line x1="380.60" y1="59.20" x2="380.60" y2="49.50" stroke="#000" stroke-width="1.7"/>
<line x1="379.35" y1="49.50" x2="381.85" y2="49.50" stroke="#000" stroke-width="1.4"/>
<line x1="380.60" y1="86.00" x2="380.60" y2="95.20" stroke="#000" stroke-width="1.7"/>
<line x1="379.35" y1="95.20" x2="381.85" y2="95.20" stroke="#000" stroke-width="1.4"/>
<rect x="378.70" y="57.30" width="3.8" height="3.8" fill="#000"/>
<path d="M377.80,83.70 L383.40,83.70 L380.60,88.30 Z" fill="#000"/>
<path d="M438.00,144.30 L440.17,142.81 L442.34,141.27 L444.51,139.68 L446.68,138.06 L448.85,136.40 L451.02,134.70 L453.19,132.97 L455.36,131.21 L457.53,129.42 L459.69,127.61 L461.86,125.78 L464.03,123.92 L466.20,122.06 L468.37,120.18 L470.54,118.30 L472.71,116.42 L474.88,114.54 L477.05,112.67 L479.22,110.81 L481.39,108.96 L483.56,107.14 L485.73,105.33 L487.90,103.55 L490.07,101.79 L492.24,100.07 L494.41,98.39 L496.58,96.73 L498.75,95.12 L500.92,93.55 L503.08,92.03 L505.25,90.54 L507.42,89.10 L509.59,87.71 L511.76,86.37 L513.93,85.07 L516.10,83.82 L518.27,82.62 L520.44,81.46 L522.61,80.35 L524.78,79.29 L526.95,78.27 L529.12,77.30 L531.29,76.38 L533.46,75.49 L535.63,74.65 L537.80,73.85 L539.97,73.08 L542.14,72.36 L544.31,71.67 L546.47,71.01 L548.64,70.40 L550.81,69.81 L552.98,69.25 L555.15,68.73 L557.32,68.23 L559.49,67.76 L561.66,67.32 L563.83,66.90 L566.00,66.51" fill="none" stroke="#000" stroke-width="2.1"/>
<path d="M438.00,153.02 L440.17,150.77 L442.34,148.49 L444.51,146.17 L446.68,143.84 L448.85,141.50 L451.02,139.17 L453.19,136.86 L455.36,134.58 L457.53,132.35 L459.69,130.16 L461.86,128.04 L464.03,125.98 L466.20,124.01 L468.37,122.11 L470.54,120.30 L472.71,118.58 L474.88,116.95 L477.05,115.41 L479.22,113.96 L481.39,112.60 L483.56,111.33 L485.73,110.15 L487.90,109.05 L490.07,108.03 L492.24,107.09 L494.41,106.21 L496.58,105.41 L498.75,104.67 L500.92,103.99 L503.08,103.37 L505.25,102.80 L507.42,102.28 L509.59,101.80 L511.76,101.37 L513.93,100.97 L516.10,100.61 L518.27,100.28 L520.44,99.98 L522.61,99.71 L524.78,99.46 L526.95,99.24 L529.12,99.03 L531.29,98.85 L533.46,98.68 L535.63,98.53 L537.80,98.39 L539.97,98.27 L542.14,98.15 L544.31,98.05 L546.47,97.96 L548.64,97.88 L550.81,97.80 L552.98,97.73 L555.15,97.67 L557.32,97.61 L559.49,97.56 L561.66,97.52 L563.83,97.48 L566.00,97.44" fill="none" stroke="#000" stroke-width="2" stroke-dasharray="2,3.1"/>
<line x1="438.00" y1="145.50" x2="438.00" y2="142.50" stroke="#000" stroke-width="1.7"/>
<line x1="436.75" y1="142.50" x2="439.25" y2="142.50" stroke="#000" stroke-width="1.4"/>
<line x1="438.00" y1="151.80" x2="438.00" y2="156.50" stroke="#000" stroke-width="1.7"/>
<line x1="436.75" y1="156.50" x2="439.25" y2="156.50" stroke="#000" stroke-width="1.4"/>
<rect x="436.10" y="143.60" width="3.8" height="3.8" fill="#000"/>
<path d="M435.20,149.50 L440.80,149.50 L438.00,154.10 Z" fill="#000"/>
<line x1="454.60" y1="129.30" x2="454.60" y2="122.20" stroke="#000" stroke-width="1.7"/>
<line x1="453.35" y1="122.20" x2="455.85" y2="122.20" stroke="#000" stroke-width="1.4"/>
<line x1="454.60" y1="131.20" x2="454.60" y2="135.00" stroke="#000" stroke-width="1.7"/>
<line x1="453.35" y1="135.00" x2="455.85" y2="135.00" stroke="#000" stroke-width="1.4"/>
<rect x="452.70" y="127.40" width="3.8" height="3.8" fill="#000"/>
<path d="M451.80,128.90 L457.40,128.90 L454.60,133.50 Z" fill="#000"/>
<line x1="471.80" y1="118.10" x2="471.80" y2="107.80" stroke="#000" stroke-width="1.7"/>
<line x1="470.55" y1="107.80" x2="473.05" y2="107.80" stroke="#000" stroke-width="1.4"/>
<line x1="471.80" y1="121.90" x2="471.80" y2="124.70" stroke="#000" stroke-width="1.7"/>
<line x1="470.55" y1="124.70" x2="473.05" y2="124.70" stroke="#000" stroke-width="1.4"/>
<rect x="469.90" y="116.20" width="3.8" height="3.8" fill="#000"/>
<path d="M469.00,119.60 L474.60,119.60 L471.80,124.20 Z" fill="#000"/>
<line x1="493.40" y1="98.30" x2="493.40" y2="90.40" stroke="#000" stroke-width="1.7"/>
<line x1="492.15" y1="90.40" x2="494.65" y2="90.40" stroke="#000" stroke-width="1.4"/>
<line x1="493.40" y1="109.50" x2="493.40" y2="114.50" stroke="#000" stroke-width="1.7"/>
<line x1="492.15" y1="114.50" x2="494.65" y2="114.50" stroke="#000" stroke-width="1.4"/>
<rect x="491.50" y="96.40" width="3.8" height="3.8" fill="#000"/>
<path d="M490.60,107.20 L496.20,107.20 L493.40,111.80 Z" fill="#000"/>
<line x1="510.30" y1="86.80" x2="510.30" y2="82.80" stroke="#000" stroke-width="1.7"/>
<line x1="509.05" y1="82.80" x2="511.55" y2="82.80" stroke="#000" stroke-width="1.4"/>
<line x1="510.30" y1="104.40" x2="510.30" y2="109.00" stroke="#000" stroke-width="1.7"/>
<line x1="509.05" y1="109.00" x2="511.55" y2="109.00" stroke="#000" stroke-width="1.4"/>
<rect x="508.40" y="84.90" width="3.8" height="3.8" fill="#000"/>
<path d="M507.50,102.10 L513.10,102.10 L510.30,106.70 Z" fill="#000"/>
<line x1="566.00" y1="66.40" x2="566.00" y2="62.20" stroke="#000" stroke-width="1.7"/>
<line x1="564.75" y1="62.20" x2="567.25" y2="62.20" stroke="#000" stroke-width="1.4"/>
<line x1="566.00" y1="92.20" x2="566.00" y2="97.80" stroke="#000" stroke-width="1.7"/>
<line x1="564.75" y1="97.80" x2="567.25" y2="97.80" stroke="#000" stroke-width="1.4"/>
<rect x="564.10" y="64.50" width="3.8" height="3.8" fill="#000"/>
<path d="M563.20,89.90 L568.80,89.90 L566.00,94.50 Z" fill="#000"/>
<path d="M86.80,344.30 L88.75,343.18 L90.71,342.04 L92.66,340.87 L94.62,339.68 L96.57,338.48 L98.53,337.25 L100.48,336.02 L102.43,334.77 L104.39,333.51 L106.34,332.25 L108.30,330.99 L110.25,329.73 L112.21,328.47 L114.16,327.23 L116.11,325.99 L118.07,324.76 L120.02,323.56 L121.98,322.37 L123.93,321.20 L125.88,320.05 L127.84,318.93 L129.79,317.84 L131.75,316.78 L133.70,315.75 L135.66,314.75 L137.61,313.78 L139.56,312.84 L141.52,311.94 L143.47,311.08 L145.43,310.24 L147.38,309.44 L149.34,308.68 L151.29,307.95 L153.24,307.25 L155.20,306.58 L157.15,305.95 L159.11,305.34 L161.06,304.77 L163.02,304.23 L164.97,303.71 L166.92,303.23 L168.88,302.76 L170.83,302.33 L172.79,301.92 L174.74,301.53 L176.69,301.16 L178.65,300.82 L180.60,300.49 L182.56,300.19 L184.51,299.90 L186.47,299.63 L188.42,299.37 L190.37,299.14 L192.33,298.91 L194.28,298.70 L196.24,298.51 L198.19,298.32 L200.15,298.15 L202.10,297.99" fill="none" stroke="#000" stroke-width="2.1"/>
<path d="M86.80,347.65 L88.75,346.77 L90.71,345.86 L92.66,344.92 L94.62,343.95 L96.57,342.95 L98.53,341.93 L100.48,340.88 L102.43,339.82 L104.39,338.73 L106.34,337.63 L108.30,336.51 L110.25,335.38 L112.21,334.24 L114.16,333.09 L116.11,331.95 L118.07,330.80 L120.02,329.66 L121.98,328.52 L123.93,327.40 L125.88,326.28 L127.84,325.18 L129.79,324.10 L131.75,323.04 L133.70,322.00 L135.66,320.99 L137.61,320.00 L139.56,319.04 L141.52,318.11 L143.47,317.21 L145.43,316.34 L147.38,315.50 L149.34,314.70 L151.29,313.92 L153.24,313.18 L155.20,312.47 L157.15,311.80 L159.11,311.15 L161.06,310.54 L163.02,309.96 L164.97,309.40 L166.92,308.88 L168.88,308.38 L170.83,307.91 L172.79,307.47 L174.74,307.05 L176.69,306.65 L178.65,306.28 L180.60,305.93 L182.56,305.60 L184.51,305.29 L186.47,305.00 L188.42,304.73 L190.37,304.47 L192.33,304.23 L194.28,304.01 L196.24,303.80 L198.19,303.60 L200.15,303.42 L202.10,303.25" fill="none" stroke="#000" stroke-width="2" stroke-dasharray="3.4,4.2"/>
<line x1="86.80" y1="345.40" x2="86.80" y2="338.40" stroke="#000" stroke-width="1.7"/>
<line x1="85.55" y1="338.40" x2="88.05" y2="338.40" stroke="#000" stroke-width="1.4"/>
<line x1="86.80" y1="351.20" x2="86.80" y2="356.40" stroke="#000" stroke-width="1.7"/>
<line x1="85.55" y1="356.40" x2="88.05" y2="356.40" stroke="#000" stroke-width="1.4"/>
<rect x="84.90" y="343.50" width="3.8" height="3.8" fill="#000"/>
<path d="M84.00,348.90 L89.60,348.90 L86.80,353.50 Z" fill="#000"/>
<line x1="102.40" y1="331.50" x2="102.40" y2="321.10" stroke="#000" stroke-width="1.7"/>
<line x1="101.15" y1="321.10" x2="103.65" y2="321.10" stroke="#000" stroke-width="1.4"/>
<line x1="102.40" y1="338.00" x2="102.40" y2="346.40" stroke="#000" stroke-width="1.7"/>
<line x1="101.15" y1="346.40" x2="103.65" y2="346.40" stroke="#000" stroke-width="1.4"/>
<rect x="100.50" y="329.60" width="3.8" height="3.8" fill="#000"/>
<path d="M99.60,335.70 L105.20,335.70 L102.40,340.30 Z" fill="#000"/>
<line x1="117.30" y1="324.40" x2="117.30" y2="314.60" stroke="#000" stroke-width="1.7"/>
<line x1="116.05" y1="314.60" x2="118.55" y2="314.60" stroke="#000" stroke-width="1.4"/>
<line x1="117.30" y1="333.00" x2="117.30" y2="344.10" stroke="#000" stroke-width="1.7"/>
<line x1="116.05" y1="344.10" x2="118.55" y2="344.10" stroke="#000" stroke-width="1.4"/>
<rect x="115.40" y="322.50" width="3.8" height="3.8" fill="#000"/>
<path d="M114.50,330.70 L120.10,330.70 L117.30,335.30 Z" fill="#000"/>
<line x1="137.00" y1="317.00" x2="137.00" y2="307.20" stroke="#000" stroke-width="1.7"/>
<line x1="135.75" y1="307.20" x2="138.25" y2="307.20" stroke="#000" stroke-width="1.4"/>
<line x1="137.00" y1="319.50" x2="137.00" y2="333.90" stroke="#000" stroke-width="1.7"/>
<line x1="135.75" y1="333.90" x2="138.25" y2="333.90" stroke="#000" stroke-width="1.4"/>
<rect x="135.10" y="315.10" width="3.8" height="3.8" fill="#000"/>
<path d="M134.20,317.20 L139.80,317.20 L137.00,321.80 Z" fill="#000"/>
<line x1="152.00" y1="306.10" x2="152.00" y2="293.30" stroke="#000" stroke-width="1.7"/>
<line x1="150.75" y1="293.30" x2="153.25" y2="293.30" stroke="#000" stroke-width="1.4"/>
<line x1="152.00" y1="317.00" x2="152.00" y2="333.20" stroke="#000" stroke-width="1.7"/>
<line x1="150.75" y1="333.20" x2="153.25" y2="333.20" stroke="#000" stroke-width="1.4"/>
<rect x="150.10" y="304.20" width="3.8" height="3.8" fill="#000"/>
<path d="M149.20,314.70 L154.80,314.70 L152.00,319.30 Z" fill="#000"/>
<line x1="202.10" y1="298.70" x2="202.10" y2="283.90" stroke="#000" stroke-width="1.7"/>
<line x1="200.85" y1="283.90" x2="203.35" y2="283.90" stroke="#000" stroke-width="1.4"/>
<line x1="202.10" y1="300.30" x2="202.10" y2="317.50" stroke="#000" stroke-width="1.7"/>
<line x1="200.85" y1="317.50" x2="203.35" y2="317.50" stroke="#000" stroke-width="1.4"/>
<rect x="200.20" y="296.80" width="3.8" height="3.8" fill="#000"/>
<path d="M199.30,298.00 L204.90,298.00 L202.10,302.60 Z" fill="#000"/>
<path d="M262.20,340.31 L264.24,337.98 L266.29,335.62 L268.33,333.22 L270.38,330.80 L272.42,328.37 L274.46,325.92 L276.51,323.48 L278.55,321.04 L280.60,318.61 L282.64,316.21 L284.68,313.83 L286.73,311.49 L288.77,309.19 L290.82,306.94 L292.86,304.74 L294.91,302.60 L296.95,300.52 L298.99,298.50 L301.04,296.56 L303.08,294.68 L305.13,292.87 L307.17,291.14 L309.21,289.48 L311.26,287.89 L313.30,286.38 L315.35,284.95 L317.39,283.58 L319.43,282.28 L321.48,281.06 L323.52,279.90 L325.57,278.81 L327.61,277.77 L329.65,276.80 L331.70,275.89 L333.74,275.03 L335.79,274.23 L337.83,273.48 L339.87,272.77 L341.92,272.11 L343.96,271.50 L346.01,270.92 L348.05,270.39 L350.09,269.88 L352.14,269.42 L354.18,268.98 L356.23,268.58 L358.27,268.20 L360.32,267.85 L362.36,267.53 L364.40,267.22 L366.45,266.94 L368.49,266.68 L370.54,266.44 L372.58,266.22 L374.62,266.01 L376.67,265.82 L378.71,265.64 L380.76,265.47 L382.80,265.32" fill="none" stroke="#000" stroke-width="2.1"/>
<path d="M262.20,349.54 L264.24,348.49 L266.29,347.38 L268.33,346.23 L270.38,345.03 L272.42,343.78 L274.46,342.49 L276.51,341.16 L278.55,339.79 L280.60,338.39 L282.64,336.96 L284.68,335.52 L286.73,334.05 L288.77,332.57 L290.82,331.09 L292.86,329.61 L294.91,328.14 L296.95,326.69 L298.99,325.25 L301.04,323.83 L303.08,322.45 L305.13,321.10 L307.17,319.80 L309.21,318.53 L311.26,317.31 L313.30,316.13 L315.35,315.01 L317.39,313.94 L319.43,312.91 L321.48,311.94 L323.52,311.03 L325.57,310.16 L327.61,309.34 L329.65,308.58 L331.70,307.86 L333.74,307.18 L335.79,306.56 L337.83,305.97 L339.87,305.42 L341.92,304.92 L343.96,304.45 L346.01,304.01 L348.05,303.61 L350.09,303.23 L352.14,302.89 L354.18,302.57 L356.23,302.28 L358.27,302.01 L360.32,301.76 L362.36,301.53 L364.40,301.32 L366.45,301.13 L368.49,300.95 L370.54,300.79 L372.58,300.64 L374.62,300.50 L376.67,300.37 L378.71,300.26 L380.76,300.15 L382.80,300.06" fill="none" stroke="#000" stroke-width="2" stroke-dasharray="4.4,6.2"/>
<line x1="262.20" y1="342.80" x2="262.20" y2="333.80" stroke="#000" stroke-width="1.7"/>
<line x1="260.95" y1="333.80" x2="263.45" y2="333.80" stroke="#000" stroke-width="1.4"/>
<line x1="262.20" y1="351.70" x2="262.20" y2="359.00" stroke="#000" stroke-width="1.7"/>
<line x1="260.95" y1="359.00" x2="263.45" y2="359.00" stroke="#000" stroke-width="1.4"/>
<rect x="260.30" y="340.90" width="3.8" height="3.8" fill="#000"/>
<path d="M259.40,349.40 L265.00,349.40 L262.20,354.00 Z" fill="#000"/>
<line x1="278.10" y1="316.30" x2="278.10" y2="301.10" stroke="#000" stroke-width="1.7"/>
<line x1="276.85" y1="301.10" x2="279.35" y2="301.10" stroke="#000" stroke-width="1.4"/>
<line x1="278.10" y1="332.50" x2="278.10" y2="343.20" stroke="#000" stroke-width="1.7"/>
<line x1="276.85" y1="343.20" x2="279.35" y2="343.20" stroke="#000" stroke-width="1.4"/>
<rect x="276.20" y="314.40" width="3.8" height="3.8" fill="#000"/>
<path d="M275.30,330.20 L280.90,330.20 L278.10,334.80 Z" fill="#000"/>
<line x1="293.90" y1="304.20" x2="293.90" y2="288.40" stroke="#000" stroke-width="1.7"/>
<line x1="292.65" y1="288.40" x2="295.15" y2="288.40" stroke="#000" stroke-width="1.4"/>
<line x1="293.90" y1="329.00" x2="293.90" y2="340.10" stroke="#000" stroke-width="1.7"/>
<line x1="292.65" y1="340.10" x2="295.15" y2="340.10" stroke="#000" stroke-width="1.4"/>
<rect x="292.00" y="302.30" width="3.8" height="3.8" fill="#000"/>
<path d="M291.10,326.70 L296.70,326.70 L293.90,331.30 Z" fill="#000"/>
<line x1="314.90" y1="287.40" x2="314.90" y2="274.80" stroke="#000" stroke-width="1.7"/>
<line x1="313.65" y1="274.80" x2="316.15" y2="274.80" stroke="#000" stroke-width="1.4"/>
<line x1="314.90" y1="314.80" x2="314.90" y2="327.50" stroke="#000" stroke-width="1.7"/>
<line x1="313.65" y1="327.50" x2="316.15" y2="327.50" stroke="#000" stroke-width="1.4"/>
<rect x="313.00" y="285.50" width="3.8" height="3.8" fill="#000"/>
<path d="M312.10,312.50 L317.70,312.50 L314.90,317.10 Z" fill="#000"/>
<line x1="330.80" y1="276.30" x2="330.80" y2="264.90" stroke="#000" stroke-width="1.7"/>
<line x1="329.55" y1="264.90" x2="332.05" y2="264.90" stroke="#000" stroke-width="1.4"/>
<line x1="330.80" y1="308.50" x2="330.80" y2="321.80" stroke="#000" stroke-width="1.7"/>
<line x1="329.55" y1="321.80" x2="332.05" y2="321.80" stroke="#000" stroke-width="1.4"/>
<rect x="328.90" y="274.40" width="3.8" height="3.8" fill="#000"/>
<path d="M328.00,306.20 L333.60,306.20 L330.80,310.80 Z" fill="#000"/>
<line x1="382.80" y1="265.70" x2="382.80" y2="254.30" stroke="#000" stroke-width="1.7"/>
<line x1="381.55" y1="254.30" x2="384.05" y2="254.30" stroke="#000" stroke-width="1.4"/>
<line x1="382.80" y1="298.30" x2="382.80" y2="311.70" stroke="#000" stroke-width="1.7"/>
<line x1="381.55" y1="311.70" x2="384.05" y2="311.70" stroke="#000" stroke-width="1.4"/>
<rect x="380.90" y="263.80" width="3.8" height="3.8" fill="#000"/>
<path d="M380.00,296.00 L385.60,296.00 L382.80,300.60 Z" fill="#000"/>
<path d="M445.70,369.22 L447.89,368.88 L450.08,368.51 L452.27,368.13 L454.46,367.73 L456.65,367.30 L458.84,366.86 L461.03,366.40 L463.22,365.91 L465.41,365.41 L467.60,364.88 L469.79,364.34 L471.98,363.78 L474.17,363.20 L476.36,362.60 L478.55,361.99 L480.74,361.36 L482.93,360.72 L485.12,360.07 L487.31,359.40 L489.50,358.73 L491.69,358.05 L493.88,357.36 L496.07,356.67 L498.26,355.98 L500.45,355.29 L502.64,354.60 L504.83,353.92 L507.02,353.24 L509.21,352.58 L511.39,351.92 L513.58,351.27 L515.77,350.64 L517.96,350.02 L520.15,349.42 L522.34,348.84 L524.53,348.27 L526.72,347.72 L528.91,347.19 L531.10,346.68 L533.29,346.19 L535.48,345.72 L537.67,345.27 L539.86,344.84 L542.05,344.43 L544.24,344.04 L546.43,343.67 L548.62,343.32 L550.81,342.99 L553.00,342.67 L555.19,342.37 L557.38,342.09 L559.57,341.83 L561.76,341.58 L563.95,341.34 L566.14,341.12 L568.33,340.92 L570.52,340.72 L572.71,340.54 L574.90,340.37" fill="none" stroke="#000" stroke-width="2.1"/>
<path d="M453.60,377.60 L458.40,371.27 L460.37,370.79 L462.35,370.30 L464.32,369.79 L466.30,369.26 L468.27,368.72 L470.25,368.17 L472.22,367.61 L474.20,367.03 L476.17,366.45 L478.15,365.86 L480.12,365.26 L482.09,364.65 L484.07,364.04 L486.04,363.43 L488.02,362.81 L489.99,362.20 L491.97,361.59 L493.94,360.98 L495.92,360.38 L497.89,359.79 L499.87,359.20 L501.84,358.62 L503.82,358.05 L505.79,357.50 L507.76,356.96 L509.74,356.43 L511.71,355.91 L513.69,355.41 L515.66,354.93 L517.64,354.46 L519.61,354.01 L521.59,353.58 L523.56,353.17 L525.54,352.77 L527.51,352.38 L529.48,352.02 L531.46,351.67 L533.43,351.34 L535.41,351.02 L537.38,350.72 L539.36,350.44 L541.33,350.17 L543.31,349.91 L545.28,349.67 L547.26,349.44 L549.23,349.22 L551.21,349.02 L553.18,348.83 L555.15,348.65 L557.13,348.48 L559.10,348.32 L561.08,348.17 L563.05,348.03 L565.03,347.89 L567.00,347.77 L568.98,347.65 L570.95,347.54 L572.93,347.44 L574.90,347.35" fill="none" stroke="#000" stroke-width="2" stroke-dasharray="3.3,5.2"/>
<line x1="445.70" y1="367.00" x2="445.70" y2="361.90" stroke="#000" stroke-width="1.7"/>
<line x1="444.45" y1="361.90" x2="446.95" y2="361.90" stroke="#000" stroke-width="1.4"/>
<rect x="443.80" y="365.10" width="3.8" height="3.8" fill="#000"/>
<path d="M442.90,373.10 L448.50,373.10 L445.70,377.70 Z" fill="#000"/>
<line x1="462.60" y1="366.40" x2="462.60" y2="363.60" stroke="#000" stroke-width="1.7"/>
<line x1="461.35" y1="363.60" x2="463.85" y2="363.60" stroke="#000" stroke-width="1.4"/>
<line x1="462.60" y1="370.20" x2="462.60" y2="377.10" stroke="#000" stroke-width="1.7"/>
<line x1="461.35" y1="377.10" x2="463.85" y2="377.10" stroke="#000" stroke-width="1.4"/>
<rect x="460.70" y="364.50" width="3.8" height="3.8" fill="#000"/>
<path d="M459.80,367.90 L465.40,367.90 L462.60,372.50 Z" fill="#000"/>
<line x1="479.20" y1="360.40" x2="479.20" y2="355.30" stroke="#000" stroke-width="1.7"/>
<line x1="477.95" y1="355.30" x2="480.45" y2="355.30" stroke="#000" stroke-width="1.4"/>
<line x1="479.20" y1="365.70" x2="479.20" y2="368.40" stroke="#000" stroke-width="1.7"/>
<line x1="477.95" y1="368.40" x2="480.45" y2="368.40" stroke="#000" stroke-width="1.4"/>
<rect x="477.30" y="358.50" width="3.8" height="3.8" fill="#000"/>
<path d="M476.40,363.40 L482.00,363.40 L479.20,368.00 Z" fill="#000"/>
<line x1="501.50" y1="355.30" x2="501.50" y2="348.70" stroke="#000" stroke-width="1.7"/>
<line x1="500.25" y1="348.70" x2="502.75" y2="348.70" stroke="#000" stroke-width="1.4"/>
<line x1="501.50" y1="359.20" x2="501.50" y2="364.10" stroke="#000" stroke-width="1.7"/>
<line x1="500.25" y1="364.10" x2="502.75" y2="364.10" stroke="#000" stroke-width="1.4"/>
<rect x="499.60" y="353.40" width="3.8" height="3.8" fill="#000"/>
<path d="M498.70,356.90 L504.30,356.90 L501.50,361.50 Z" fill="#000"/>
<line x1="518.70" y1="348.90" x2="518.70" y2="341.90" stroke="#000" stroke-width="1.7"/>
<line x1="517.45" y1="341.90" x2="519.95" y2="341.90" stroke="#000" stroke-width="1.4"/>
<line x1="518.70" y1="354.00" x2="518.70" y2="359.20" stroke="#000" stroke-width="1.7"/>
<line x1="517.45" y1="359.20" x2="519.95" y2="359.20" stroke="#000" stroke-width="1.4"/>
<rect x="516.80" y="347.00" width="3.8" height="3.8" fill="#000"/>
<path d="M515.90,351.70 L521.50,351.70 L518.70,356.30 Z" fill="#000"/>
<line x1="574.90" y1="340.50" x2="574.90" y2="333.10" stroke="#000" stroke-width="1.7"/>
<line x1="573.65" y1="333.10" x2="576.15" y2="333.10" stroke="#000" stroke-width="1.4"/>
<line x1="574.90" y1="346.50" x2="574.90" y2="352.60" stroke="#000" stroke-width="1.7"/>
<line x1="573.65" y1="352.60" x2="576.15" y2="352.60" stroke="#000" stroke-width="1.4"/>
<rect x="573.00" y="338.60" width="3.8" height="3.8" fill="#000"/>
<path d="M572.10,344.20 L577.70,344.20 L574.90,348.80 Z" fill="#000"/>
<line x1="582.1" y1="74.3" x2="606.6" y2="74.3" stroke="#000" stroke-width="2"/>
<rect x="593.0" y="71.50" width="5.9" height="5.6" fill="#000"/>
<text x="609.73" y="76.60" font-size="9.00" textLength="22.29" lengthAdjust="spacingAndGlyphs">IL-13</text>
<line x1="583.4" y1="96.0" x2="609.1" y2="96.0" stroke="#000" stroke-width="2" stroke-dasharray="2,2.2"/>
<path d="M593.7,92.40 L601.4,92.40 L597.55,99.40 Z" fill="#000"/>
<text x="610.62" y="100.10" font-size="9.20" textLength="46.49" lengthAdjust="spacingAndGlyphs">CONTROL</text>
<line x1="582.1" y1="278.9" x2="606.6" y2="278.9" stroke="#000" stroke-width="2"/>
<rect x="593.0" y="276.10" width="5.9" height="5.6" fill="#000"/>
<text x="609.73" y="281.70" font-size="9.00" textLength="22.29" lengthAdjust="spacingAndGlyphs">IL-13</text>
<line x1="583.4" y1="300.6" x2="609.1" y2="300.6" stroke="#000" stroke-width="2" stroke-dasharray="2,2.2"/>
<path d="M593.7,297.00 L601.4,297.00 L597.55,304.00 Z" fill="#000"/>
<text x="610.62" y="304.70" font-size="9.20" textLength="46.49" lengthAdjust="spacingAndGlyphs">CONTROL</text>
<line x1="509.2" y1="37.8" x2="565" y2="37.8" stroke="#000" stroke-width="1.8"/>
<line x1="537.20" y1="28.20" x2="537.20" y2="34.40" stroke="#000" stroke-width="1.5" stroke-linecap="round"/>
<line x1="534.52" y1="29.75" x2="539.88" y2="32.85" stroke="#000" stroke-width="1.5" stroke-linecap="round"/>
<line x1="539.88" y1="29.75" x2="534.52" y2="32.85" stroke="#000" stroke-width="1.5" stroke-linecap="round"/>
</svg></body></html>
